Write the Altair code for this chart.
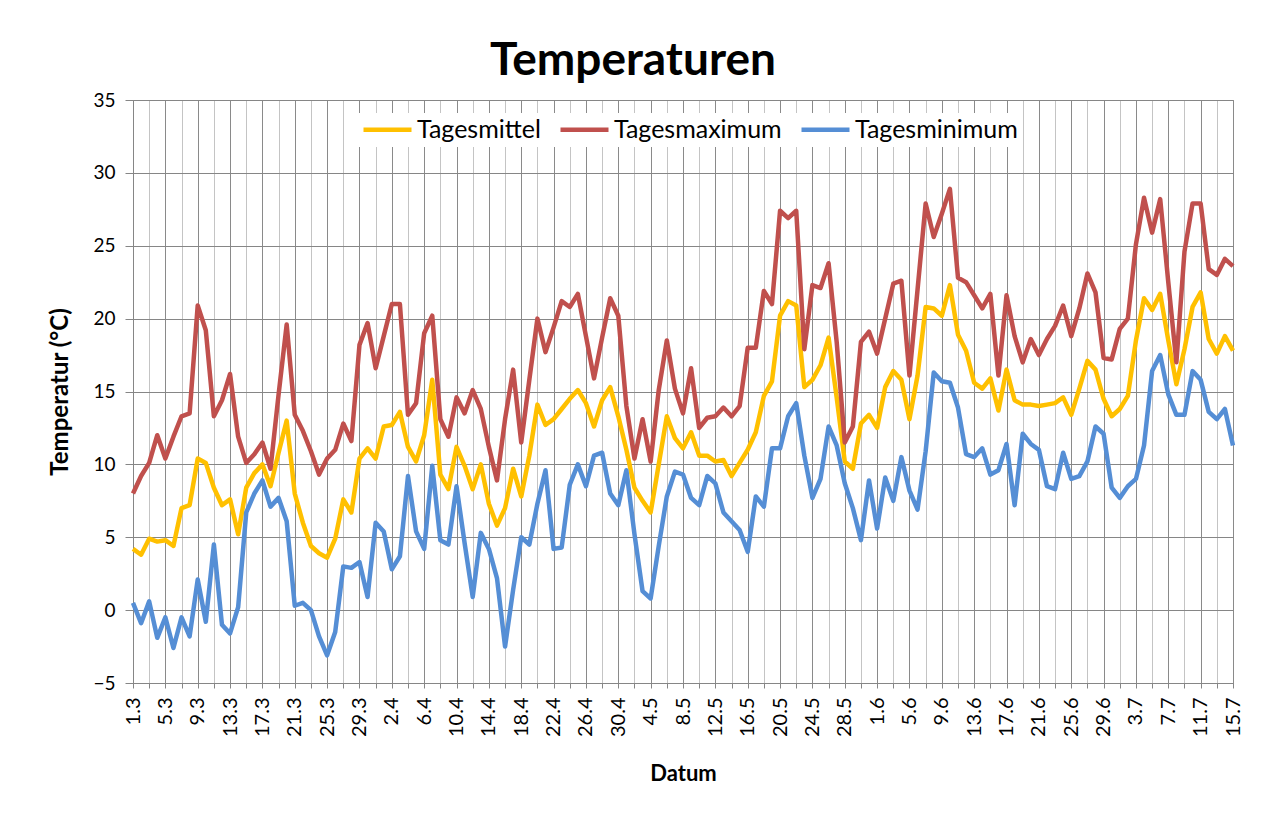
import altair as alt
import pandas as pd

# Dates 1.3 .. 15.7 (daily)
dates = pd.date_range("2013-03-01", "2013-07-15", freq="D")
date_labels = [f"{d.day}.{d.month}" for d in dates]

tages_mittel = [4.2, 3.8, 4.9, 4.7, 4.8, 4.4, 7.0, 7.2, 10.4, 10.1, 8.4, 7.2, 7.6, 5.2, 8.4, 9.4, 10.0, 8.5, 10.8, 13.0,
                8.0, 6.0, 4.4, 3.9, 3.6, 4.9, 7.6, 6.7, 10.4, 11.1, 10.4, 12.6, 12.7, 13.6, 11.2, 10.2, 12.0, 15.8, 9.3, 8.3,
                11.2, 9.9, 8.3, 10.0, 7.3, 5.8, 7.0, 9.7, 7.8, 10.6, 14.1, 12.7, 13.1, 13.8, 14.5, 15.1, 14.2, 12.6, 14.4, 15.3,
                13.3, 11.0, 8.4, 7.5, 6.7, 10.0, 13.3, 11.8, 11.1, 12.2, 10.6, 10.6, 10.2, 10.3, 9.2, 10.1, 11.0, 12.2, 14.7, 15.7,
                20.2, 21.2, 20.9, 15.3, 15.8, 16.8, 18.7, 14.6, 10.2, 9.7, 12.8, 13.4, 12.5, 15.3, 16.4, 15.8, 13.1, 16.1, 20.8, 20.7,
                20.2, 22.3, 18.9, 17.8, 15.6, 15.2, 15.9, 13.7, 16.5, 14.4, 14.1, 14.1, 14.0, 14.1, 14.2, 14.6, 13.4, 15.2, 17.1, 16.5,
                14.5, 13.3, 13.8, 14.7, 18.5, 21.4, 20.6, 21.7, 18.5, 15.5, 17.9, 20.8, 21.8, 18.6, 17.6, 18.8, 17.8]

tages_maximum = [8.0, 9.2, 10.1, 12.0, 10.4, 11.9, 13.3, 13.5, 20.9, 19.2, 13.3, 14.4, 16.2, 11.9, 10.1, 10.7, 11.5, 9.7, 14.8, 19.6,
                 13.4, 12.3, 10.9, 9.3, 10.4, 11.0, 12.8, 11.6, 18.2, 19.7, 16.6, 18.8, 21.0, 21.0, 13.4, 14.2, 19.0, 20.2, 13.1, 11.9,
                 14.6, 13.5, 15.1, 13.8, 11.2, 8.9, 13.1, 16.5, 11.5, 15.8, 20.0, 17.7, 19.4, 21.2, 20.8, 21.7, 18.8, 15.9, 18.7, 21.4,
                 20.2, 14.0, 10.4, 13.1, 10.2, 15.1, 18.5, 15.2, 13.5, 16.6, 12.5, 13.2, 13.3, 13.9, 13.3, 14.0, 18.0, 18.0, 21.9, 21.0,
                 27.4, 26.9, 27.4, 17.9, 22.3, 22.1, 23.8, 18.4, 11.5, 12.6, 18.4, 19.1, 17.6, 20.0, 22.4, 22.6, 16.1, 22.0, 27.9, 25.6,
                 27.2, 28.9, 22.8, 22.5, 21.6, 20.7, 21.7, 16.1, 21.6, 18.8, 17.0, 18.6, 17.5, 18.6, 19.5, 20.9, 18.8, 20.7, 23.1, 21.8,
                 17.3, 17.2, 19.3, 20.0, 25.1, 28.3, 25.9, 28.2, 22.5, 17.0, 24.6, 27.9, 27.9, 23.4, 23.0, 24.1, 23.6]

tages_minimum = [0.5, -0.9, 0.6, -1.9, -0.5, -2.6, -0.5, -1.8, 2.1, -0.8, 4.5, -1.0, -1.6, 0.2, 6.7, 8.0, 8.9, 7.1, 7.7, 6.1,
                 0.3, 0.5, 0.0, -1.8, -3.1, -1.5, 3.0, 2.9, 3.3, 0.9, 6.0, 5.4, 2.8, 3.7, 9.2, 5.4, 4.2, 9.9, 4.8, 4.5,
                 8.5, 4.6, 0.9, 5.3, 4.2, 2.2, -2.5, 1.4, 5.0, 4.5, 7.3, 9.6, 4.2, 4.3, 8.6, 10.0, 8.5, 10.6, 10.8, 8.0,
                 7.2, 9.6, 5.2, 1.3, 0.8, 4.4, 7.8, 9.5, 9.3, 7.7, 7.2, 9.2, 8.7, 6.7, 6.1, 5.5, 4.0, 7.8, 7.1, 11.1,
                 11.1, 13.3, 14.2, 10.6, 7.7, 9.0, 12.6, 11.3, 8.7, 7.0, 4.8, 8.9, 5.6, 9.1, 7.5, 10.5, 8.2, 6.9, 10.9, 16.3,
                 15.7, 15.6, 13.9, 10.7, 10.5, 11.1, 9.3, 9.6, 11.4, 7.2, 12.1, 11.4, 11.0, 8.5, 8.3, 10.8, 9.0, 9.2, 10.2, 12.6,
                 12.1, 8.4, 7.7, 8.5, 9.0, 11.3, 16.4, 17.5, 14.8, 13.4, 13.4, 16.4, 15.8, 13.6, 13.1, 13.8, 11.3]

series_names = ["Tagesmittel", "Tagesmaximum", "Tagesminimum"]
series_colors = ["#FFC000", "#C0504D", "#558ED5"]
y_ticks = [-5, 0, 5, 10, 15, 20, 25, 30, 35]

rows = []
for name, vals in zip(series_names, [tages_mittel, tages_maximum, tages_minimum]):
    for i, v in enumerate(vals):
        rows.append({"idx": i, "Datum": date_labels[i], "Temperatur": v, "Serie": name})
df = pd.DataFrame(rows)

label_array = "[" + ",".join(f"'{s}'" for s in date_labels) + "]"
x_tick_values = list(range(0, len(date_labels), 2))

FONT = "Lato"

x_enc = alt.X(
    "idx:Q",
    scale=alt.Scale(domain=[0, len(date_labels) - 1], nice=False, zero=False),
    axis=alt.Axis(
        title="Datum",
        values=x_tick_values,
        labelExpr=f"datum.value % 4 == 0 ? {label_array}[datum.value] : ''",
        labelAngle=270,
        labelFontSize=20,
        labelPadding=9,
        labelColor="#000000",
        tickSize=5,
        tickColor="#868686",
        domainColor="#868686",
        gridColor={"condition": {"test": "datum.value % 4 == 0", "value": "#8a8a8a"}, "value": "#c4c4c4"},
        titleFontSize=22,
        titleFontWeight="bold",
        titlePadding=27,
        titleColor="#000000",
    ),
)
y_enc = alt.Y(
    "Temperatur:Q",
    scale=alt.Scale(domain=[-5, 35], nice=False),
    axis=alt.Axis(
        title="Temperatur (°C)",
        values=y_ticks,
        labelFontSize=19,
        labelPadding=10,
        labelColor="#000000",
        tickSize=8,
        tickColor="#868686",
        domainColor="#868686",
        gridColor="#868686",
        titleFontSize=24,
        titleFontWeight="bold",
        titlePadding=20,
        titleColor="#000000",
    ),
)
color_enc = alt.Color(
    "Serie:N",
    scale=alt.Scale(domain=series_names, range=series_colors),
    legend=alt.Legend(
        title=None,
        orient="none",
        direction="horizontal",
        legendX=222,
        legendY=13,
        symbolType="M-3,0L3,0",
        symbolSize=256,
        symbolOffset=16,
        symbolStrokeWidth=4.5,
        labelOffset=17,
        labelFontSize=25,
        labelLimit=400,
        labelColor="#000000",
        columnPadding=10,
        fillColor="white",
        padding=4,
    ),
)

layers = []
for name in series_names:
    layers.append(
        alt.Chart(df[df["Serie"] == name])
        .mark_line(strokeWidth=4.5, strokeJoin="round")
        .encode(x=x_enc, y=y_enc, color=color_enc)
    )

chart = (
    alt.layer(*layers)
    .properties(
        width=1100,
        height=583,
        title=alt.Title("Temperaturen", fontSize=46, fontWeight="bold", color="#000000", anchor="middle", dx=-50, offset=6),
        autosize=alt.AutoSizeParams(type="none"),
        padding={"left": 125, "top": 92, "right": 20, "bottom": 120},
    )
    .configure(font=FONT)
    .configure_view(stroke="#868686")
)

chart.save("out.html", embed_options={"renderer": "svg", "actions": False})
